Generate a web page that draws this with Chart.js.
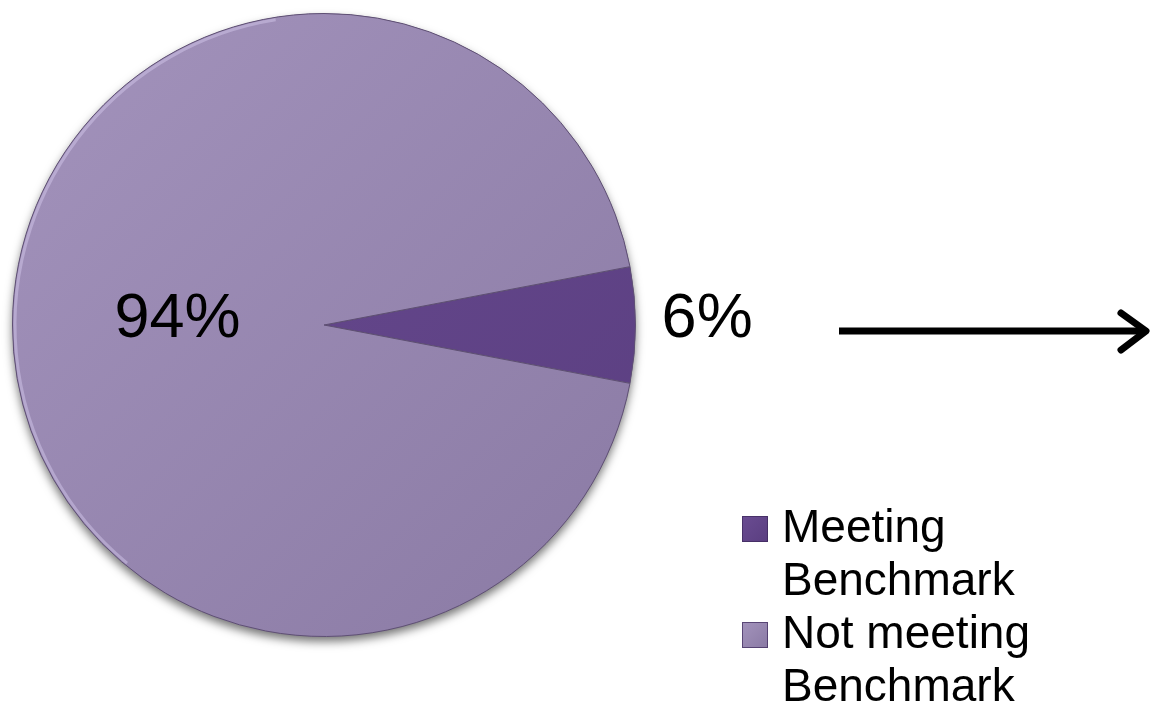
<!DOCTYPE html>
<html>
<head>
<meta charset="utf-8">
<script src="https://cdn.jsdelivr.net/npm/chart.js@4"></script>
<style>
  html, body { margin: 0; padding: 0; background: #ffffff; }
  #wrap { width: 1151px; height: 709px; position: relative; }
</style>
</head>
<body>
<div id="wrap"><canvas id="pieChart"></canvas></div>
<script>
const categories = ['Meeting Benchmark', 'Not meeting Benchmark'];
const shares = [6, 94];
const shareLabels = ['6%', '94%'];

// light / dark end of each slice's fill
const sliceColors = [
    ['#6a4c92', '#5a3e80'],
    ['#a393bc', '#8a7aa4']
];

const FONT = '"Liberation Sans", Arial, sans-serif';

// soft drop shadow under the whole pie
const pieShadow = {
    id: 'pieShadow',
    beforeDatasetsDraw(chart) {
        const arc = chart.getDatasetMeta(0).data[0];
        if (!arc) return;
        const ctx = chart.ctx;
        ctx.save();
        ctx.beginPath();
        ctx.arc(arc.x, arc.y, arc.outerRadius, 0, Math.PI * 2);
        ctx.shadowColor = 'rgba(0,0,0,0.55)';
        ctx.shadowBlur = 10;
        ctx.shadowOffsetY = 5;
        ctx.fillStyle = '#8f7fa9';
        ctx.fill();
        ctx.restore();
    },
    afterDatasetsDraw(chart) {
        const arc = chart.getDatasetMeta(0).data[0];
        if (!arc) return;
        const ctx = chart.ctx;
        // faint light rim along the upper-left edge
        ctx.save();
        ctx.beginPath();
        ctx.arc(arc.x, arc.y, arc.outerRadius - 2.5, Math.PI * 0.72, Math.PI * 1.45);
        ctx.strokeStyle = 'rgba(215,205,240,0.45)';
        ctx.lineWidth = 3;
        ctx.stroke();
        ctx.restore();
    }
};

// percentage labels, one per slice
const sliceLabels = {
    id: 'sliceLabels',
    afterDatasetsDraw(chart) {
        const ctx = chart.ctx;
        const meta = chart.getDatasetMeta(0);
        const offsets = [1.23, 0.47];
        ctx.save();
        ctx.font = '63px ' + FONT;
        ctx.fillStyle = '#000000';
        ctx.textAlign = 'center';
        ctx.textBaseline = 'middle';
        meta.data.forEach((arc, i) => {
            const mid = (arc.startAngle + arc.endAngle) / 2;
            const r = arc.outerRadius * offsets[i];
            const x = arc.x + Math.cos(mid) * r;
            const y = arc.y + Math.sin(mid) * r - 5;
            ctx.fillText(shareLabels[i], x, y);
        });
        ctx.restore();
    }
};

// arrow pointing right, off the small slice
const arrow = {
    id: 'arrow',
    afterDraw(chart) {
        const ctx = chart.ctx;
        ctx.save();
        ctx.strokeStyle = '#000000';
        ctx.lineWidth = 7;
        ctx.beginPath();
        ctx.moveTo(839, 331);
        ctx.lineTo(1144, 331);
        ctx.stroke();
        ctx.lineCap = 'round';
        ctx.lineJoin = 'round';
        ctx.beginPath();
        ctx.moveTo(1121, 313);
        ctx.lineTo(1146, 331);
        ctx.lineTo(1121, 350);
        ctx.stroke();
        ctx.restore();
    }
};

// two-line legend at the lower right
const sideLegend = {
    id: 'sideLegend',
    afterDraw(chart) {
        const ctx = chart.ctx;
        const box = 26;
        const left = 742;
        const textX = 782;
        const lineGap = 53;
        let baseline = 542;
        ctx.save();
        ctx.font = '46px ' + FONT;
        ctx.fillStyle = '#000000';
        ctx.textBaseline = 'alphabetic';
        categories.forEach((label, i) => {
            const cut = label.lastIndexOf(' ');
            const lines = [label.slice(0, cut), label.slice(cut + 1)];
            const top = baseline - box;
            const g = ctx.createLinearGradient(left, top, left + box, top + box);
            g.addColorStop(0, sliceColors[i][0]);
            g.addColorStop(1, sliceColors[i][1]);
            ctx.fillStyle = g;
            ctx.fillRect(left, top, box, box);
            ctx.strokeStyle = 'rgba(60,40,90,0.7)';
            ctx.lineWidth = 1;
            ctx.strokeRect(left + 0.5, top + 0.5, box - 1, box - 1);
            ctx.fillStyle = '#000000';
            lines.forEach((t, j) => {
                ctx.fillText(t, textX, baseline + j * lineGap);
            });
            baseline += lineGap * 2;
        });
        ctx.restore();
    }
};

const ctx = document.getElementById('pieChart');
new Chart(ctx, {
    type: 'pie',
    data: {
        labels: categories,
        datasets: [
            {
                data: shares,
                backgroundColor: (c) => {
                    const area = c.chart.chartArea;
                    const cols = sliceColors[c.dataIndex % sliceColors.length];
                    if (!area) return cols[0];
                    const g = c.chart.ctx.createLinearGradient(area.left, area.top, area.right, area.bottom);
                    g.addColorStop(0, cols[0]);
                    g.addColorStop(1, cols[1]);
                    return g;
                },
                borderColor: '#5e4f73',
                borderWidth: 1
            }
        ]
    },
    options: {
        responsive: true,
        maintainAspectRatio: false,
        animation: false,
        rotation: 79.2,
        layout: {
            padding: { left: 12, top: 13, right: 515, bottom: 72 }
        },
        plugins: {
            legend: { display: false },
            tooltip: { enabled: false }
        }
    },
    plugins: [pieShadow, sliceLabels, arrow, sideLegend]
});
</script>
</body>
</html>
